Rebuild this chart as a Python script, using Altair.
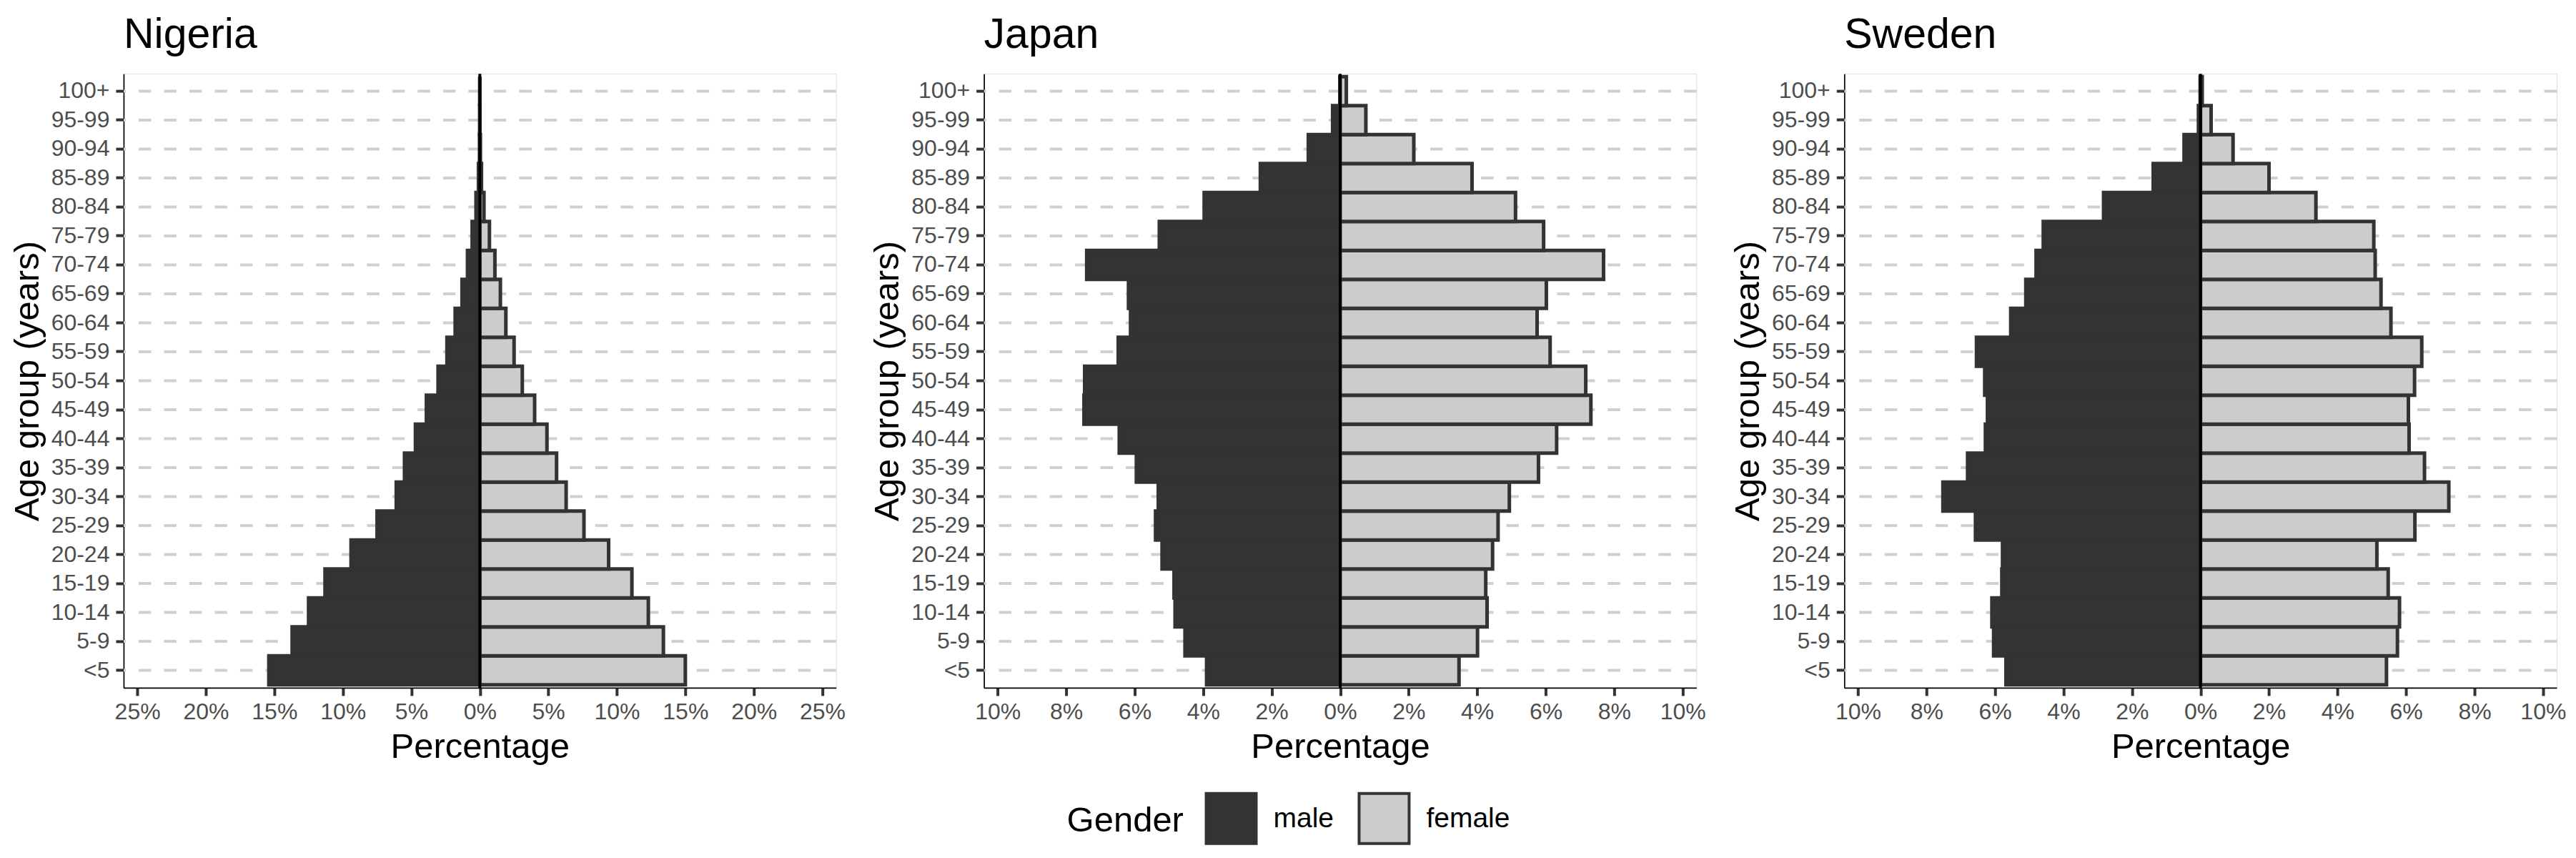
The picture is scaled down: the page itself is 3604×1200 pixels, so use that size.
import altair as alt
import pandas as pd

age_groups = ["<5", "5-9", "10-14", "15-19", "20-24", "25-29", "30-34", "35-39",
              "40-44", "45-49", "50-54", "55-59", "60-64", "65-69", "70-74",
              "75-79", "80-84", "85-89", "90-94", "95-99", "100+"]

countries = ["Nigeria", "Japan", "Sweden"]

nigeria_male = [15.4, 13.7, 12.5, 11.3, 9.4, 7.5, 6.1, 5.5, 4.7, 3.9, 3.05,
                2.4, 1.8, 1.3, 0.9, 0.56, 0.28, 0.1, 0.02, 0.005, 0.0]
nigeria_female = [15.0, 13.4, 12.3, 11.1, 9.4, 7.6, 6.3, 5.6, 4.9, 4.0, 3.1,
                  2.5, 1.9, 1.5, 1.1, 0.7, 0.3, 0.12, 0.04, 0.01, 0.0]

japan_male = [3.9, 4.53, 4.82, 4.85, 5.2, 5.39, 5.31, 5.95, 6.45, 7.48, 7.46,
              6.48, 6.12, 6.18, 7.4, 5.28, 3.97, 2.33, 0.93, 0.22, 0.01]
japan_female = [3.47, 4.01, 4.29, 4.25, 4.45, 4.61, 4.94, 5.79, 6.32, 7.32, 7.17,
                6.13, 5.75, 6.02, 7.69, 5.94, 5.12, 3.85, 2.15, 0.75, 0.18]

sweden_male = [5.68, 6.04, 6.09, 5.8, 5.78, 6.57, 7.52, 6.8, 6.28, 6.22, 6.3,
               6.54, 5.54, 5.1, 4.8, 4.59, 2.83, 1.38, 0.48, 0.06, 0.01]
sweden_female = [5.43, 5.75, 5.81, 5.48, 5.15, 6.26, 7.25, 6.54, 6.09, 6.07, 6.25,
                 6.46, 5.56, 5.27, 5.1, 5.06, 3.37, 2.0, 0.95, 0.31, 0.05]

limits = [26, 10.4, 10.4]
tick_values = [[-25, -20, -15, -10, -5, 0, 5, 10, 15, 20, 25],
               [-10, -8, -6, -4, -2, 0, 2, 4, 6, 8, 10],
               [-10, -8, -6, -4, -2, 0, 2, 4, 6, 8, 10]]

males = [nigeria_male, japan_male, sweden_male]
females = [nigeria_female, japan_female, sweden_female]

genders = ["male", "female"]
gender_colors = ["#333333", "#cccccc"]

FONT = "Liberation Sans"
W, H = 997, 859
age_order_top = list(reversed(age_groups))


def panel(name, male, female, lim, ticks, show_legend):
    rows = []
    for a, m, f in zip(age_groups, male, female):
        rows.append({"age": a, "gender": "male", "value": -m})
        rows.append({"age": a, "gender": "female", "value": f})
    df = pd.DataFrame(rows)

    yenc = alt.Y(
        "age:N", sort=age_order_top,
        scale=alt.Scale(paddingInner=0, paddingOuter=0.1),
        axis=alt.Axis(title="Age group (years)", titleFontSize=49, titleFont=FONT,
                      titleFontWeight="normal", titleColor="black", titlePadding=8,
                      labelFont=FONT, labelFontSize=32, labelColor="#4d4d4d",
                      labelPadding=9, tickColor="#333333", tickWidth=4, tickSize=11,
                      domainColor="black", domainWidth=1.7, grid=False),
    )
    xenc = alt.X(
        "value:Q",
        scale=alt.Scale(domain=[-lim, lim], nice=False, zero=False),
        axis=alt.Axis(values=ticks, labelExpr="abs(datum.value) + '%'",
                      title="Percentage", titleFontSize=49, titleFont=FONT,
                      titleFontWeight="normal", titleColor="black", titlePadding=9,
                      labelFont=FONT, labelFontSize=32, labelColor="#4d4d4d",
                      labelPadding=8, tickColor="#333333", tickWidth=4, tickSize=11,
                      domainColor="black", domainWidth=1.7, grid=False),
    )

    grid = alt.Chart(pd.DataFrame({"age": age_groups})).mark_rule(
        color="#d0d0d0", strokeWidth=4, strokeDash=[17.5, 18]
    ).encode(y=yenc)

    color_kwargs = dict(scale=alt.Scale(domain=genders, range=gender_colors))
    if show_legend:
        color_kwargs["legend"] = alt.Legend(
            title="Gender", orient="none", legendX=1320, legendY=1005,
            direction="horizontal", titleOrient="left", titleFont=FONT,
            titleFontSize=49, titleFontWeight="normal", titleColor="black",
            titlePadding=29, labelFont=FONT, labelFontSize=39, labelColor="black",
            labelOffset=22, columnPadding=27, symbolType="square", symbolSize=4900,
            symbolStrokeColor="#333333", symbolStrokeWidth=4, symbolOpacity=1,
        )

    bars = alt.Chart(df).mark_bar(stroke="#333333", strokeWidth=5).encode(
        y=yenc, x=xenc,
        color=alt.Color("gender:N", sort=genders, **color_kwargs),
    )

    zero = alt.Chart(pd.DataFrame({"value": [0]})).mark_rule(
        color="black", strokeWidth=4
    ).encode(x=xenc)

    return alt.layer(grid, bars, zero).properties(
        width=W, height=H,
        title=alt.TitleParams(name, anchor="start", frame="group", font=FONT,
                              fontSize=59, fontWeight="normal", color="black",
                              offset=22),
    )


panels = [panel(c, m, f, l, t, i == 0)
          for i, (c, m, f, l, t) in enumerate(zip(countries, males, females, limits, tick_values))]

chart = alt.hconcat(*panels, spacing=33).resolve_scale(x="independent").configure_view(
    stroke=None
).configure(padding={"left": 5, "top": 11, "right": 5, "bottom": 5}, background="white")

chart.save("out.html", embed_options={"renderer": "svg", "actions": False})
